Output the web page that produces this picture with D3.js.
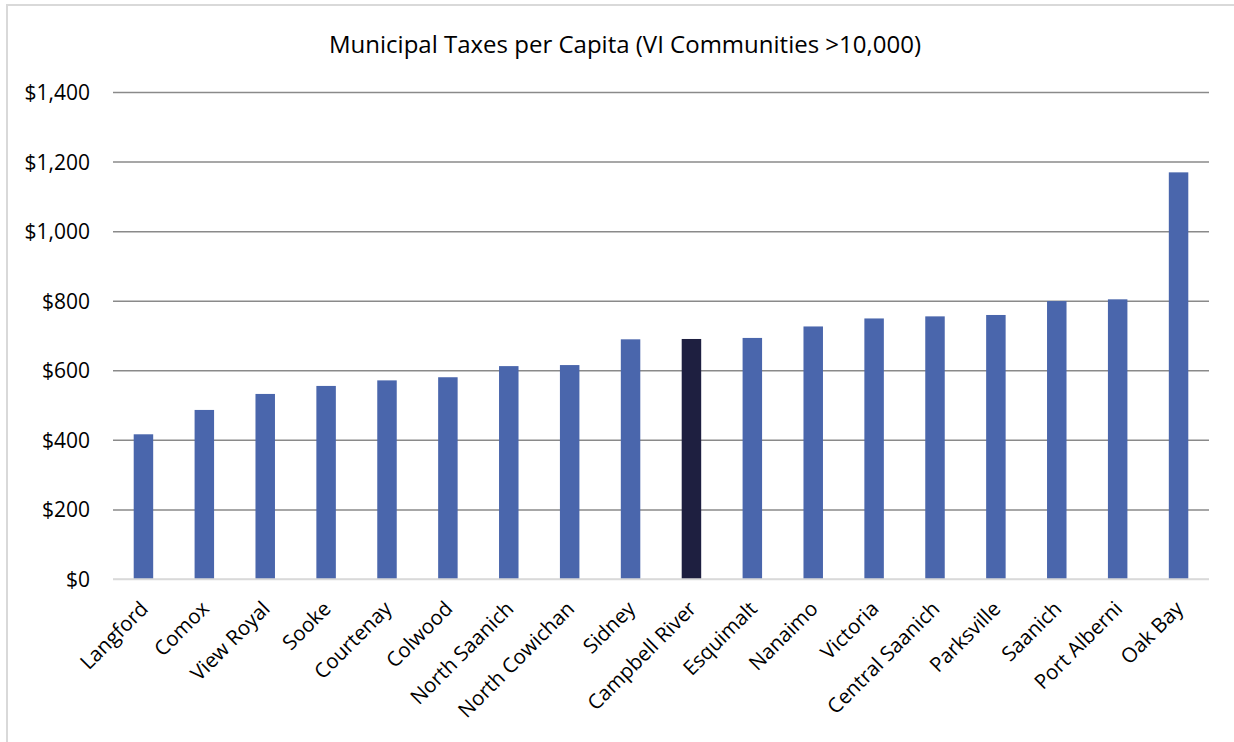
<!DOCTYPE html>
<html>
<head>
<meta charset="utf-8">
<script src="https://cdn.jsdelivr.net/npm/d3@7"></script>
<style>
  html, body { margin: 0; padding: 0; background: #fff; }
  svg text { font-family: "Open Sans", Carlito, Calibri, sans-serif; fill: #000; }
</style>
</head>
<body>
<svg id="chart" width="1234" height="742"></svg>
<script>
// chart data
const communities = ['Langford', 'Comox', 'View Royal', 'Sooke', 'Courtenay', 'Colwood',
  'North Saanich', 'North Cowichan', 'Sidney', 'Campbell River', 'Esquimalt', 'Nanaimo',
  'Victoria', 'Central Saanich', 'Parksville', 'Saanich', 'Port Alberni', 'Oak Bay'];
const taxPerCapita = [416, 486, 532, 555, 571, 580, 612, 615, 689, 690, 693, 726,
  749, 755, 759, 799, 804, 1169];
const highlighted = ['Campbell River'];
const yTicks = [0, 200, 400, 600, 800, 1000, 1200, 1400];
const chartTitle = 'Municipal Taxes per Capita (VI Communities >10,000)';

const svg = d3.select('#chart');
const cs = {
  palette: { bar: '#4a66ac', highlight: '#1e1f40', grid: '#8a8a8a', axis: '#d9d9d9', border: '#d9d9d9' },
  plot: { left: 113, right: 1209, top: 92, bottom: 579 },
  label: { dx: 6, dy: 31, size: 20.5 },
};

// chart-area border (only top and left visible in the crop)
svg.append('path')
  .attr('d', `M7,742 V5 H1234`)
  .attr('fill', 'none')
  .attr('stroke', cs.palette.border)
  .attr('stroke-width', 2);

const ds = communities.map((c, i) => ({ dim: c, metric: taxPerCapita[i] }));

const x = d3.scaleBand()
  .domain(communities)
  .range([cs.plot.left, cs.plot.right])
  .paddingInner(0.68)
  .paddingOuter(0.34);

const y = d3.scaleLinear()
  .domain([0, 1400])
  .range([cs.plot.bottom, cs.plot.top]);

// gridlines + y labels
const yAxis = d3.axisLeft(y)
  .tickValues(yTicks)
  .tickSize(-(cs.plot.right - cs.plot.left))
  .tickPadding(23)
  .tickFormat(d => '$' + d3.format(',')(d));

svg.append('g')
  .attr('class', 'y-axis')
  .attr('transform', `translate(${cs.plot.left},0)`)
  .call(yAxis)
  .call(g => g.select('.domain').remove())
  .call(g => g.selectAll('.tick line')
    .attr('stroke', d => d === 0 ? cs.palette.axis : cs.palette.grid)
    .attr('stroke-width', 1.5))
  .call(g => g.selectAll('.tick text')
    .attr('font-size', 21)
    .attr('dy', '0.36em'));

// bars
svg.append('g')
  .selectAll('rect')
  .data(ds)
  .enter()
  .append('rect')
  .attr('x', d => x(d.dim))
  .attr('width', x.bandwidth())
  .attr('y', d => y(d.metric))
  .attr('height', d => y(0) - y(d.metric))
  .attr('fill', d => highlighted.includes(d.dim) ? cs.palette.highlight : cs.palette.bar);

// x axis line drawn over bar bottoms
svg.append('line')
  .attr('x1', cs.plot.left).attr('x2', cs.plot.right)
  .attr('y1', y(0)).attr('y2', y(0))
  .attr('stroke', cs.palette.axis)
  .attr('stroke-width', 1.5);

// category labels, rotated
const xAxis = d3.axisBottom(x).tickSize(0).tickPadding(0);
svg.append('g')
  .attr('class', 'x-axis')
  .attr('transform', `translate(0,${cs.plot.bottom})`)
  .call(xAxis)
  .call(g => g.select('.domain').remove())
  .call(g => g.selectAll('.tick text')
    .attr('font-size', cs.label.size)
    .attr('text-anchor', 'end')
    .attr('dy', null)
    .attr('y', 0)
    .attr('transform', `translate(${cs.label.dx},${cs.label.dy}) rotate(-45)`));

// title
svg.append('text')
  .attr('x', 625)
  .attr('y', 53)
  .attr('text-anchor', 'middle')
  .attr('font-size', 24)
  .text(chartTitle);
</script>
</body>
</html>
